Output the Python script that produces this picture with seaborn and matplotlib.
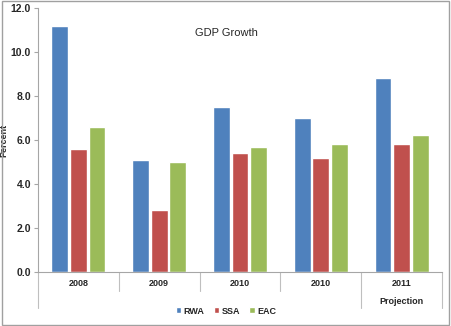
import matplotlib
matplotlib.use("Agg")
import matplotlib.pyplot as plt
import matplotlib.transforms as mtransforms
import seaborn as sns
import pandas as pd

# Chart data
periods = ["2008", "2009", "2010", "2010", "2011"]
rwa = [11.2, 5.1, 7.5, 7.0, 8.8]
ssa = [5.6, 2.8, 5.4, 5.2, 5.8]
eac = [6.6, 5.0, 5.7, 5.8, 6.25]
series = ["RWA", "SSA", "EAC"]
colors = ["#4F81BD", "#C0504D", "#9BBB59"]
y_ticks = [0, 2, 4, 6, 8, 10, 12]

rows = []
for i, p in enumerate(periods):
    for name, vals in zip(series, [rwa, ssa, eac]):
        rows.append({"slot": i, "region": name, "growth": vals[i]})
df = pd.DataFrame(rows)

sns.set_style("white")
plt.rcParams["font.family"] = ["Liberation Sans", "DejaVu Sans"]

W, H = 451, 326
fig = plt.figure(figsize=(W / 100, H / 100), dpi=100)
ax = fig.add_axes([38 / W, (H - 272) / H, (442 - 38) / W, (272 - 8) / H])

sns.barplot(data=df, x="slot", y="growth", hue="region", hue_order=series,
            palette=colors, order=list(range(len(periods))), width=0.69, gap=0.1,
            saturation=1, ax=ax, legend=True, errorbar=None)

ax.set_ylim(0, 12)
ax.set_xlim(-0.5, len(periods) - 0.5)
ax.set_yticks(y_ticks)
ax.set_yticklabels([f"{v:.1f}" for v in y_ticks], fontsize=7.5, fontweight="bold")
ax.set_xticks(range(len(periods)))
ax.set_xticklabels(periods, fontsize=6.5, fontweight="bold")
ax.tick_params(axis="x", length=0, pad=5)
ax.tick_params(axis="y", length=3, width=0.8, color="#A6A6A6", pad=2, left=True)
ax.set_xlabel("")
ax.set_ylabel("Percent", fontsize=6.5, fontweight="bold")
ax.yaxis.set_label_coords(-30 / 404, 0.5)

for side in ["top", "right"]:
    ax.spines[side].set_visible(False)
for side in ["left", "bottom"]:
    ax.spines[side].set_color("#A6A6A6")
    ax.spines[side].set_linewidth(0.8)

# Category separators below the axis (taller ones bound the outer group)
trans = mtransforms.blended_transform_factory(ax.transData, ax.transAxes)
for b in [-0.5, 0.5, 1.5, 2.5, 3.5, 4.5]:
    low = -0.136 if b in (-0.5, 3.5, 4.5) else -0.072
    ax.plot([b, b], [0, low], color="#BFBFBF", lw=0.8, transform=trans, clip_on=False)
ax.text(4, -30 / 264, "Projection", transform=trans, ha="center", va="center",
        fontsize=6.5, fontweight="bold")

fig.text(226 / W, 1 - 33 / H, "GDP Growth", ha="center", va="center", fontsize=8)

handles, labels = ax.get_legend_handles_labels()
ax.legend_.remove()
fig.legend(handles, labels, loc="center", bbox_to_anchor=(226 / W, 1 - 311 / H),
           ncol=3, frameon=False, handlelength=0.6, handleheight=0.6,
           handletextpad=0.3, columnspacing=1.0, prop={"weight": "bold", "size": 6.5})

# Outer chart border
fig.patches.append(plt.Rectangle((0.004, 0.004), 0.992, 0.992, transform=fig.transFigure,
                                 fill=False, edgecolor="#A0A0A0", lw=1.0))

fig.savefig("out.png", dpi=100)
